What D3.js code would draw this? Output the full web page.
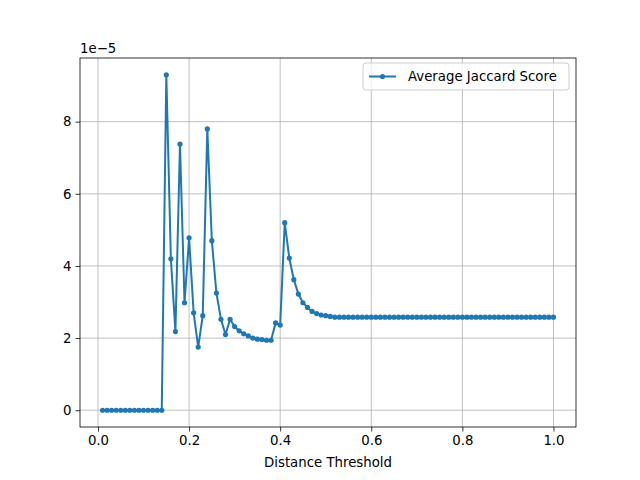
<!DOCTYPE html>
<html><head><meta charset="utf-8">
<script src="https://cdn.jsdelivr.net/npm/d3@7"></script>
<style>body{margin:0;background:#fff}text{font-family:"DejaVu Sans",sans-serif}</style>
</head><body><div id="chart"></div>
<script>
// data, in units of 1e-5
const thresholds = d3.range(1, 101).map(i => i / 100);
const early = [0,0,0,0,0,0,0,0,0,0,0,0,0,0,
  9.3,4.2,2.18,7.38,2.98,4.78,2.7,1.75,2.62,7.8,4.7,3.25,2.52,2.1,2.52,2.32,
  2.2,2.12,2.06,2.0,1.97,1.96,1.94,1.94,2.42,2.36,5.2,4.22,3.62,3.22,2.98,2.85,
  2.74,2.68,2.64,2.62,2.6];
const scores = early.concat(Array(100 - early.length).fill(2.58));
const xTicks = [0, 0.2, 0.4, 0.6, 0.8, 1.0];
const yTicks = [0, 2, 4, 6, 8];
const fs = 13.3;

let margin = {top: 58, right: 64, bottom: 53, left: 80};
let width = 640 - margin.left - margin.right, height = 480 - margin.top - margin.bottom;
let svg = d3.select('#chart').append('svg').attr('width', 640).attr('height', 480)
  .append('g').attr('transform', `translate(${margin.left},${margin.top})`);

const x = d3.scaleLinear().domain([-0.0395, 1.0495]).range([0, width]);
const y = d3.scaleLinear().domain([-0.465, 9.765]).range([height, 0]);

// grid
svg.selectAll('.gx').data(xTicks).enter().append('line')
  .attr('x1', d => x(d)).attr('x2', d => x(d)).attr('y1', 0).attr('y2', height)
  .attr('stroke', '#b0b0b0').attr('stroke-width', 0.8);
svg.selectAll('.gy').data(yTicks).enter().append('line')
  .attr('y1', d => y(d)).attr('y2', d => y(d)).attr('x1', 0).attr('x2', width)
  .attr('stroke', '#b0b0b0').attr('stroke-width', 0.8);

let xAxis = svg.append('g').attr('transform', `translate(0,${height})`)
  .call(d3.axisBottom(x).tickValues(xTicks).tickFormat(d3.format('.1f')).tickSize(4.5).tickPadding(4));
let yAxis = svg.append('g')
  .call(d3.axisLeft(y).tickValues(yTicks).tickFormat(d3.format('d')).tickSize(4.5).tickPadding(4));
[xAxis, yAxis].forEach(a => {
  a.select('.domain').remove();
  a.selectAll('text').attr('font-size', fs).attr('fill', '#000').style('font-family', 'DejaVu Sans');
  a.selectAll('line').attr('stroke', '#000').attr('stroke-width', 0.8);
});
svg.append('rect').attr('width', width).attr('height', height)
  .attr('fill', 'none').attr('stroke', '#000').attr('stroke-width', 0.8);

svg.append('text').attr('x', 0).attr('y', -5).attr('font-size', fs).text('1e\u22125');
svg.append('text').attr('x', width / 2).attr('y', height + 40).attr('text-anchor', 'middle')
  .attr('font-size', fs).text('Distance Threshold');

const pts = thresholds.map((t, i) => [t, scores[i]]);
svg.append('path').datum(pts)
  .attr('d', d3.line().x(d => x(d[0])).y(d => y(d[1])))
  .attr('fill', 'none').attr('stroke', '#1f77b4').attr('stroke-width', 2);
svg.selectAll('.pt').data(pts).enter().append('circle')
  .attr('cx', d => x(d[0])).attr('cy', d => y(d[1])).attr('r', 2.6).attr('fill', '#1f77b4');

// legend
let lg = svg.append('g').attr('transform', `translate(${width - 213},5)`);
lg.append('rect').attr('width', 206).attr('height', 27).attr('rx', 3)
  .attr('fill', '#fff').attr('fill-opacity', 0.8).attr('stroke', '#ccc');
lg.append('line').attr('x1', 6).attr('x2', 33).attr('y1', 13.5).attr('y2', 13.5)
  .attr('stroke', '#1f77b4').attr('stroke-width', 2);
lg.append('circle').attr('cx', 19.5).attr('cy', 13.5).attr('r', 2.6).attr('fill', '#1f77b4');
lg.append('text').attr('x', 45).attr('y', 18).attr('font-size', fs).text('Average Jaccard Score');
</script></body></html>
